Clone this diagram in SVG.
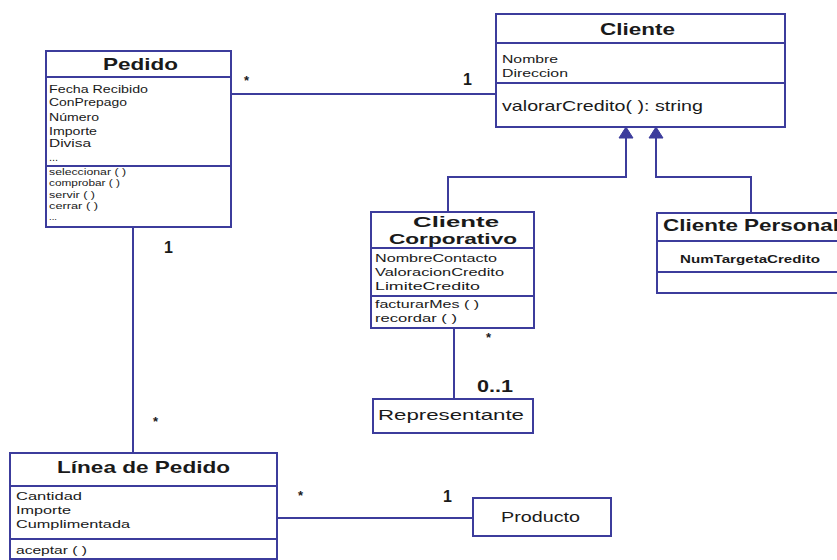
<svg xmlns="http://www.w3.org/2000/svg" width="837" height="560" viewBox="0 0 837 560">
  <style>
    .box { fill: #ffffff; stroke: #3c3c9c; stroke-width: 2; }
    .div { stroke: #3c3c9c; stroke-width: 2; fill: none; }
    .edge { stroke: #3c3c9c; stroke-width: 2; fill: none; }
    .head { fill: #3c3c9c; stroke: #3c3c9c; stroke-width: 1; }
    text { font-family: "Liberation Sans", Arial, sans-serif; fill: #1a1a1a; }
    .title { font-weight: bold; font-size: 17px; }
    .title2 { font-weight: bold; font-size: 14.5px; }
    .attr { font-size: 11px; }
    .meth { font-size: 9.5px; }
    .big { font-size: 15px; }
    .mult { font-size: 16px; font-weight: bold; }
    .star { font-size: 13px; font-weight: bold; }
  </style>
  <rect width="837" height="560" fill="#ffffff"/>

  <!-- connectors -->
  <g id="connectors">
    <line class="edge" x1="232" y1="94" x2="496" y2="94"/>
    <line class="edge" x1="133" y1="227" x2="133" y2="453"/>
    <line class="edge" x1="277" y1="518" x2="473" y2="518"/>
    <line class="edge" x1="454" y1="328" x2="454" y2="399"/>
    <polyline class="edge" points="626,137 626,177 448,177 448,212"/>
    <polyline class="edge" points="656,137 656,177 751,177 751,213"/>
    <polygon class="head" points="626,127 619,138 633,138"/>
    <polygon class="head" points="656,127 649,138 663,138"/>
    <text class="star" x="244" y="85">*</text>
    <text class="mult" x="463" y="85">1</text>
    <text class="mult" x="164" y="253">1</text>
    <text class="star" x="153" y="426">*</text>
    <text class="star" x="298" y="500">*</text>
    <text class="mult" x="443" y="502">1</text>
    <text class="star" x="486" y="342">*</text>
    <text class="mult" x="477" y="392" textLength="36" lengthAdjust="spacingAndGlyphs">0..1</text>
  </g>

  <!-- Pedido -->
  <g id="pedido">
    <rect class="box" x="46" y="51" width="185" height="176"/>
    <line class="div" x1="46" y1="77" x2="231" y2="77"/>
    <line class="div" x1="46" y1="166" x2="231" y2="166"/>
    <text class="title" x="103" y="70" textLength="75" lengthAdjust="spacingAndGlyphs">Pedido</text>
    <text class="attr" x="49" y="93" textLength="99" lengthAdjust="spacingAndGlyphs">Fecha Recibido</text>
    <text class="attr" x="49" y="106" textLength="78" lengthAdjust="spacingAndGlyphs">ConPrepago</text>
    <text class="attr" x="49" y="121" textLength="50" lengthAdjust="spacingAndGlyphs">Número</text>
    <text class="attr" x="49" y="135" textLength="48" lengthAdjust="spacingAndGlyphs">Importe</text>
    <text class="attr" x="49" y="147" textLength="42" lengthAdjust="spacingAndGlyphs">Divisa</text>
    <text class="attr" x="49" y="161">...</text>
    <text class="meth" x="49" y="175" textLength="77" lengthAdjust="spacingAndGlyphs">seleccionar ( )</text>
    <text class="meth" x="49" y="186" textLength="71" lengthAdjust="spacingAndGlyphs">comprobar ( )</text>
    <text class="meth" x="49" y="198" textLength="46" lengthAdjust="spacingAndGlyphs">servir ( )</text>
    <text class="meth" x="49" y="209" textLength="49" lengthAdjust="spacingAndGlyphs">cerrar ( )</text>
    <text class="meth" x="49" y="220">...</text>
  </g>

  <!-- Cliente -->
  <g id="cliente">
    <rect class="box" x="496" y="14" width="289" height="113"/>
    <line class="div" x1="496" y1="43" x2="785" y2="43"/>
    <line class="div" x1="496" y1="83" x2="785" y2="83"/>
    <text class="title" x="600" y="35" textLength="75" lengthAdjust="spacingAndGlyphs">Cliente</text>
    <text class="attr" x="502" y="63" textLength="56" lengthAdjust="spacingAndGlyphs">Nombre</text>
    <text class="attr" x="502" y="77" textLength="66" lengthAdjust="spacingAndGlyphs">Direccion</text>
    <text class="big" x="502" y="111" textLength="201" lengthAdjust="spacingAndGlyphs">valorarCredito( ): string</text>
  </g>

  <!-- Cliente Corporativo -->
  <g id="cliente-corporativo">
    <rect class="box" x="371" y="212" width="163" height="116"/>
    <line class="div" x1="371" y1="248" x2="534" y2="248"/>
    <line class="div" x1="371" y1="296" x2="534" y2="296"/>
    <text class="title2" x="413" y="227" textLength="86" lengthAdjust="spacingAndGlyphs">Cliente</text>
    <text class="title2" x="389" y="244" textLength="128" lengthAdjust="spacingAndGlyphs">Corporativo</text>
    <text class="attr" x="375" y="262" textLength="122" lengthAdjust="spacingAndGlyphs">NombreContacto</text>
    <text class="attr" x="375" y="276" textLength="129" lengthAdjust="spacingAndGlyphs">ValoracionCredito</text>
    <text class="attr" x="375" y="290" textLength="105" lengthAdjust="spacingAndGlyphs">LimiteCredito</text>
    <text class="attr" x="375" y="308" textLength="104" lengthAdjust="spacingAndGlyphs">facturarMes ( )</text>
    <text class="attr" x="375" y="322" textLength="82" lengthAdjust="spacingAndGlyphs">recordar ( )</text>
  </g>

  <!-- Cliente Personal -->
  <g id="cliente-personal">
    <rect class="box" x="657" y="213" width="190" height="80"/>
    <line class="div" x1="657" y1="241" x2="847" y2="241"/>
    <line class="div" x1="657" y1="272" x2="847" y2="272"/>
    <text class="title" x="663" y="231" textLength="176" lengthAdjust="spacingAndGlyphs">Cliente Personal</text>
    <text class="attr" x="680" y="263" font-weight="bold" textLength="140" lengthAdjust="spacingAndGlyphs">NumTargetaCredito</text>
  </g>

  <!-- Representante -->
  <g id="representante">
    <rect class="box" x="373" y="399" width="160" height="34"/>
    <text class="big" x="378" y="420" textLength="146" lengthAdjust="spacingAndGlyphs">Representante</text>
  </g>

  <!-- Producto -->
  <g id="producto">
    <rect class="box" x="473" y="498" width="138" height="38"/>
    <text class="big" x="501" y="522" textLength="79" lengthAdjust="spacingAndGlyphs">Producto</text>
  </g>

  <!-- Línea de Pedido -->
  <g id="linea-de-pedido">
    <rect class="box" x="10" y="453" width="267" height="106"/>
    <line class="div" x1="10" y1="486" x2="277" y2="486"/>
    <line class="div" x1="10" y1="539" x2="277" y2="539"/>
    <text class="title" x="57" y="473" textLength="173" lengthAdjust="spacingAndGlyphs">Línea de Pedido</text>
    <text class="attr" x="16" y="500" textLength="66" lengthAdjust="spacingAndGlyphs">Cantidad</text>
    <text class="attr" x="16" y="514" textLength="55" lengthAdjust="spacingAndGlyphs">Importe</text>
    <text class="attr" x="16" y="528" textLength="114" lengthAdjust="spacingAndGlyphs">Cumplimentada</text>
    <text class="attr" x="16" y="554" textLength="71" lengthAdjust="spacingAndGlyphs">aceptar ( )</text>
  </g>
</svg>
